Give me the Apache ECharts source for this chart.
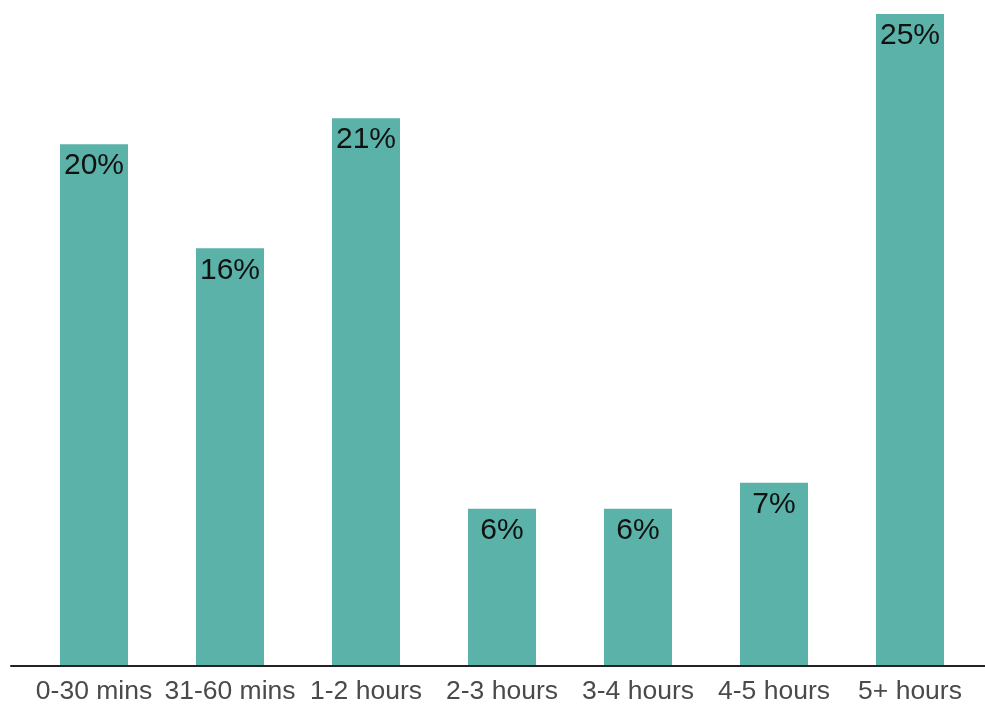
<!DOCTYPE html>
<html>
<head>
<meta charset="utf-8">
<script src="https://cdn.jsdelivr.net/npm/echarts@6/dist/echarts.min.js"></script>
<style>
  html, body { margin: 0; padding: 0; background: #fff; }
  #chart { width: 985px; height: 705px; }
</style>
</head>
<body>
<div id="chart"></div>
<script>
// Time spent, share of respondents per duration bucket
const categories = ['0-30 mins', '31-60 mins', '1-2 hours', '2-3 hours', '3-4 hours', '4-5 hours', '5+ hours'];
const shares = [20, 16, 21, 6, 6, 7, 25];

const chart = echarts.init(document.getElementById('chart'), null, { renderer: 'canvas' });

chart.setOption({
  animation: false,
  backgroundColor: '#ffffff',
  grid: [
    { left: 26, right: 7, top: 14, bottom: 38 },
    // full-width baseline under the bars
    { left: 11, right: 0, top: 14, bottom: 39 }
  ],
  xAxis: [
    {
      type: 'category',
      gridIndex: 0,
      data: categories,
      axisLine: { show: false },
      axisTick: { show: false },
      axisLabel: {
        color: '#4a4a4a',
        fontFamily: 'Liberation Sans, Arial, sans-serif',
        fontSize: 26.5,
        margin: 13,
        interval: 0
      }
    },
    {
      type: 'value',
      gridIndex: 1,
      min: 0,
      max: 1,
      z: 10,
      axisLine: { show: true, onZero: false, lineStyle: { color: '#222', width: 2 } },
      axisTick: { show: false },
      axisLabel: { show: false },
      splitLine: { show: false }
    }
  ],
  yAxis: [
    { type: 'value', gridIndex: 0, min: 0, max: 25, show: false },
    { type: 'value', gridIndex: 1, min: 0, max: 1, show: false }
  ],
  series: [
    {
      type: 'bar',
      xAxisIndex: 0,
      yAxisIndex: 0,
      data: shares,
      barWidth: '50%',
      itemStyle: { color: '#5ab2a9' },
      label: {
        show: true,
        position: 'insideTop',
        distance: 7,
        formatter: p => p.value + '%',
        color: '#111',
        fontFamily: 'Liberation Sans, Arial, sans-serif',
        fontSize: 30
      }
    }
  ]
});
</script>
</body>
</html>
